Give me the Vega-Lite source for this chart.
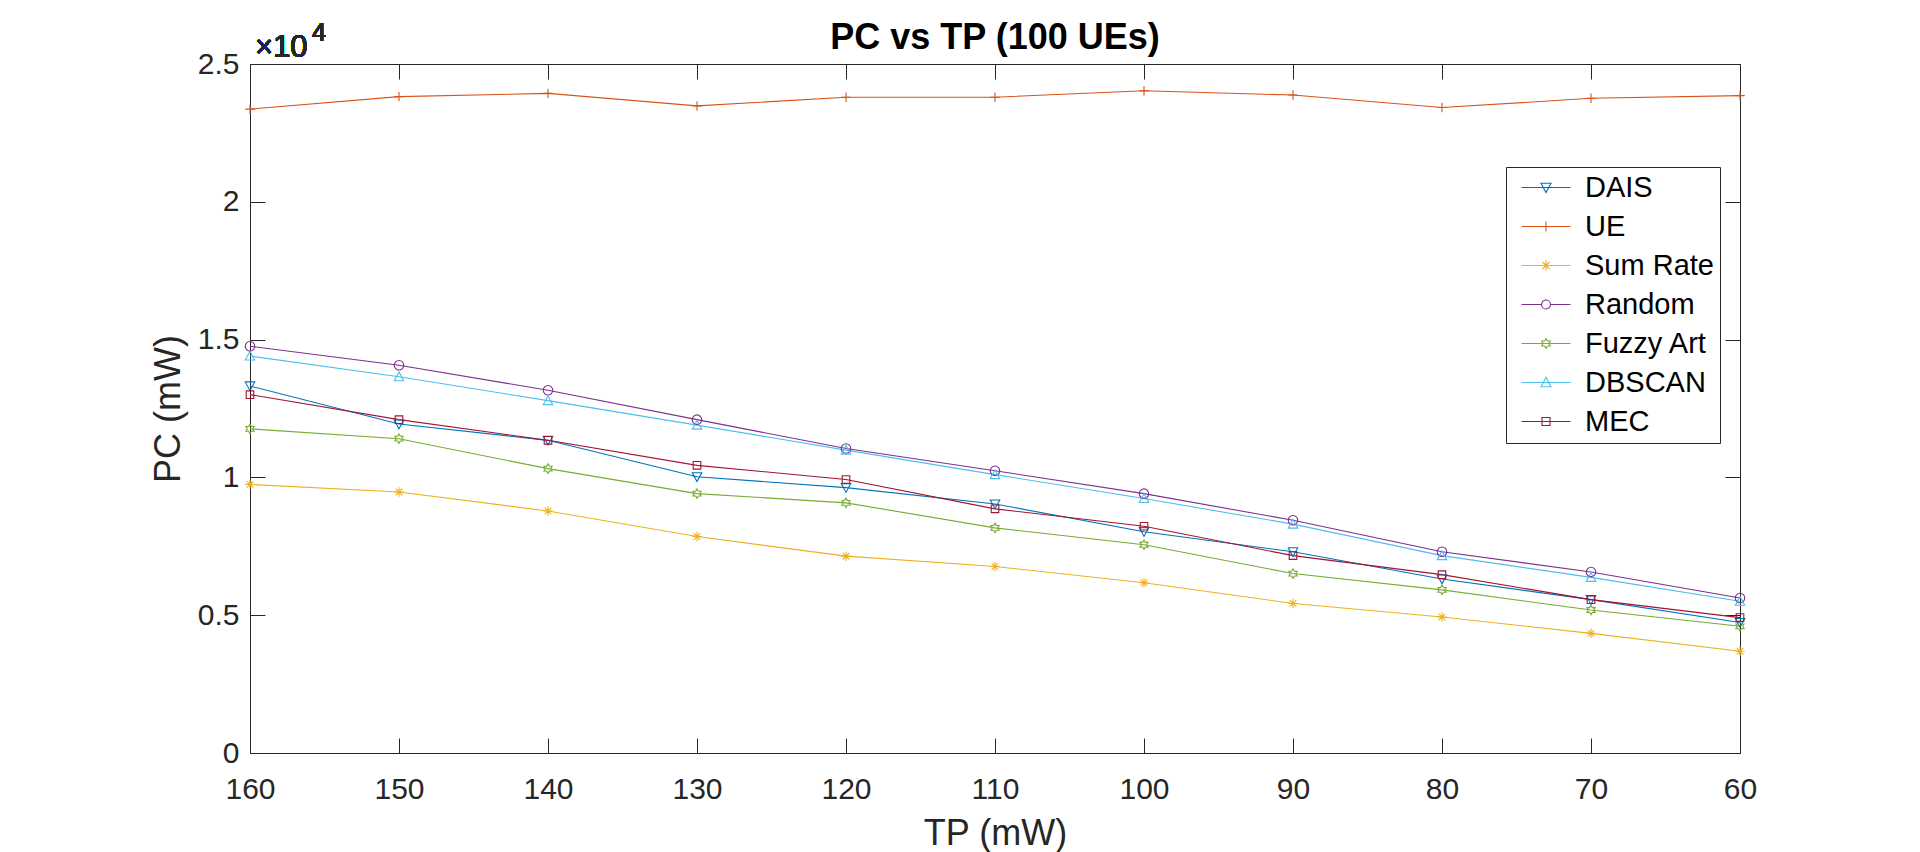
{
  "$schema": "https://vega.github.io/schema/vega-lite/v6.json",
  "width": 1490,
  "height": 689,
  "autosize": {"type": "none"},
  "padding": {"left": 250, "top": 64, "right": 180, "bottom": 99},
  "title": {
    "text": "PC vs TP (100 UEs)",
    "font": "Liberation Sans",
    "fontSize": 36,
    "fontWeight": "bold",
    "color": "#000000",
    "frame": "group",
    "anchor": "middle",
    "offset": 10,
    "dy": 46
  },
  "data": {
    "values": [
      {"TP": 160, "Method": "DAIS", "PC": 13319},
      {"TP": 150, "Method": "DAIS", "PC": 11938},
      {"TP": 140, "Method": "DAIS", "PC": 11345},
      {"TP": 130, "Method": "DAIS", "PC": 10023},
      {"TP": 120, "Method": "DAIS", "PC": 9628},
      {"TP": 110, "Method": "DAIS", "PC": 9036},
      {"TP": 100, "Method": "DAIS", "PC": 8030},
      {"TP": 90, "Method": "DAIS", "PC": 7300},
      {"TP": 80, "Method": "DAIS", "PC": 6314},
      {"TP": 70, "Method": "DAIS", "PC": 5564},
      {"TP": 60, "Method": "DAIS", "PC": 4735},
      {"TP": 160, "Method": "UE", "PC": 23362},
      {"TP": 150, "Method": "UE", "PC": 23816},
      {"TP": 140, "Method": "UE", "PC": 23934},
      {"TP": 130, "Method": "UE", "PC": 23480},
      {"TP": 120, "Method": "UE", "PC": 23794},
      {"TP": 110, "Method": "UE", "PC": 23794},
      {"TP": 100, "Method": "UE", "PC": 24031},
      {"TP": 90, "Method": "UE", "PC": 23873},
      {"TP": 80, "Method": "UE", "PC": 23420},
      {"TP": 70, "Method": "UE", "PC": 23755},
      {"TP": 60, "Method": "UE", "PC": 23854},
      {"TP": 160, "Method": "Sum Rate", "PC": 9747},
      {"TP": 150, "Method": "Sum Rate", "PC": 9471},
      {"TP": 140, "Method": "Sum Rate", "PC": 8780},
      {"TP": 130, "Method": "Sum Rate", "PC": 7853},
      {"TP": 120, "Method": "Sum Rate", "PC": 7142},
      {"TP": 110, "Method": "Sum Rate", "PC": 6767},
      {"TP": 100, "Method": "Sum Rate", "PC": 6175},
      {"TP": 90, "Method": "Sum Rate", "PC": 5426},
      {"TP": 80, "Method": "Sum Rate", "PC": 4933},
      {"TP": 70, "Method": "Sum Rate", "PC": 4341},
      {"TP": 60, "Method": "Sum Rate", "PC": 3690},
      {"TP": 160, "Method": "Random", "PC": 14759},
      {"TP": 150, "Method": "Random", "PC": 14069},
      {"TP": 140, "Method": "Random", "PC": 13161},
      {"TP": 130, "Method": "Random", "PC": 12095},
      {"TP": 120, "Method": "Random", "PC": 11049},
      {"TP": 110, "Method": "Random", "PC": 10240},
      {"TP": 100, "Method": "Random", "PC": 9411},
      {"TP": 90, "Method": "Random", "PC": 8444},
      {"TP": 80, "Method": "Random", "PC": 7300},
      {"TP": 70, "Method": "Random", "PC": 6570},
      {"TP": 60, "Method": "Random", "PC": 5623},
      {"TP": 160, "Method": "Fuzzy Art", "PC": 11760},
      {"TP": 150, "Method": "Fuzzy Art", "PC": 11405},
      {"TP": 140, "Method": "Fuzzy Art", "PC": 10319},
      {"TP": 130, "Method": "Fuzzy Art", "PC": 9411},
      {"TP": 120, "Method": "Fuzzy Art", "PC": 9076},
      {"TP": 110, "Method": "Fuzzy Art", "PC": 8168},
      {"TP": 100, "Method": "Fuzzy Art", "PC": 7557},
      {"TP": 90, "Method": "Fuzzy Art", "PC": 6511},
      {"TP": 80, "Method": "Fuzzy Art", "PC": 5919},
      {"TP": 70, "Method": "Fuzzy Art", "PC": 5189},
      {"TP": 60, "Method": "Fuzzy Art", "PC": 4597},
      {"TP": 160, "Method": "DBSCAN", "PC": 14404},
      {"TP": 150, "Method": "DBSCAN", "PC": 13654},
      {"TP": 140, "Method": "DBSCAN", "PC": 12786},
      {"TP": 130, "Method": "DBSCAN", "PC": 11897},
      {"TP": 120, "Method": "DBSCAN", "PC": 10990},
      {"TP": 110, "Method": "DBSCAN", "PC": 10102},
      {"TP": 100, "Method": "DBSCAN", "PC": 9234},
      {"TP": 90, "Method": "DBSCAN", "PC": 8306},
      {"TP": 80, "Method": "DBSCAN", "PC": 7162},
      {"TP": 70, "Method": "DBSCAN", "PC": 6373},
      {"TP": 60, "Method": "DBSCAN", "PC": 5505},
      {"TP": 160, "Method": "MEC", "PC": 13003},
      {"TP": 150, "Method": "MEC", "PC": 12096},
      {"TP": 140, "Method": "MEC", "PC": 11345},
      {"TP": 130, "Method": "MEC", "PC": 10437},
      {"TP": 120, "Method": "MEC", "PC": 9924},
      {"TP": 110, "Method": "MEC", "PC": 8859},
      {"TP": 100, "Method": "MEC", "PC": 8227},
      {"TP": 90, "Method": "MEC", "PC": 7162},
      {"TP": 80, "Method": "MEC", "PC": 6471},
      {"TP": 70, "Method": "MEC", "PC": 5564},
      {"TP": 60, "Method": "MEC", "PC": 4913}
    ]
  },
  "layer": [
    {
      "mark": {"type": "line", "strokeWidth": 1.1},
      "encoding": {
        "x": {
          "field": "TP",
          "type": "quantitative",
          "scale": {"domain": [60, 160], "reverse": true, "nice": false, "zero": false},
          "axis": {
            "orient": "bottom",
            "values": [60, 70, 80, 90, 100, 110, 120, 130, 140, 150, 160],
            "format": "d",
            "tickSize": -15,
            "labelPadding": 36,
            "labelFont": "Liberation Sans",
            "labelFontSize": 30,
            "labelColor": "#262626",
            "labelFlush": false,
            "labelOverlap": false,
            "title": "TP (mW)",
            "titleFont": "Liberation Sans",
            "titleFontSize": 36,
            "titleFontWeight": "normal",
            "titleColor": "#262626",
            "titlePadding": 12,
            "domainColor": "#262626",
            "tickColor": "#262626",
            "grid": false
          }
        },
        "y": {
          "field": "PC",
          "type": "quantitative",
          "scale": {"domain": [0, 25000], "nice": false},
          "axis": {
            "orient": "left",
            "values": [0, 5000, 10000, 15000, 20000, 25000],
            "labelExpr": "format(datum.value / 10000, '~g')",
            "tickSize": -15,
            "labelPadding": 26,
            "labelFont": "Liberation Sans",
            "labelFontSize": 30,
            "labelColor": "#262626",
            "labelFlush": false,
            "labelOverlap": false,
            "title": "PC (mW)",
            "titleFont": "Liberation Sans",
            "titleFontSize": 36,
            "titleFontWeight": "normal",
            "titleColor": "#262626",
            "titlePadding": 10,
            "domainColor": "#262626",
            "tickColor": "#262626",
            "grid": false
          }
        },
        "color": {
          "field": "Method",
          "type": "nominal",
          "scale": {
            "domain": ["DAIS", "UE", "Sum Rate", "Random", "Fuzzy Art", "DBSCAN", "MEC"],
            "range": ["#0072BD", "#D95319", "#EDB120", "#7E2F8E", "#77AC30", "#4DBEEE", "#A2142F"]
          },
          "legend": null
        }
      }
    },
    {
      "mark": {"type": "point", "filled": false, "size": 90, "strokeWidth": 1.1, "opacity": 1},
      "encoding": {
        "x": {
          "field": "TP",
          "type": "quantitative",
          "axis": {
            "orient": "top",
            "values": [60, 70, 80, 90, 100, 110, 120, 130, 140, 150, 160],
            "labels": false,
            "tickSize": -15,
            "title": null,
            "domainColor": "#262626",
            "tickColor": "#262626",
            "grid": false
          }
        },
        "y": {
          "field": "PC",
          "type": "quantitative",
          "axis": {
            "orient": "right",
            "values": [0, 5000, 10000, 15000, 20000, 25000],
            "labels": false,
            "tickSize": -15,
            "title": null,
            "domainColor": "#262626",
            "tickColor": "#262626",
            "grid": false
          }
        },
        "color": {
          "field": "Method",
          "type": "nominal",
          "scale": {
            "domain": ["DAIS", "UE", "Sum Rate", "Random", "Fuzzy Art", "DBSCAN", "MEC"],
            "range": ["#0072BD", "#D95319", "#EDB120", "#7E2F8E", "#77AC30", "#4DBEEE", "#A2142F"]
          },
          "legend": null
        },
        "shape": {
          "field": "Method",
          "type": "nominal",
          "scale": {
            "domain": ["DAIS", "UE", "Sum Rate", "Random", "Fuzzy Art", "DBSCAN", "MEC"],
            "range": [
              "M-1,-0.85H1L0,1Z",
              "M-1,0H1M0,-1V1",
              "M-1,0H1M0,-1V1M-0.7,-0.7L0.7,0.7M-0.7,0.7L0.7,-0.7",
              "M1,0A1,1,0,1,1,-1,0A1,1,0,1,1,1,0",
              "M0,-1L0.289,-0.5L0.866,-0.5L0.577,0L0.866,0.5L0.289,0.5L0,1L-0.289,0.5L-0.866,0.5L-0.577,0L-0.866,-0.5L-0.289,-0.5Z",
              "M-1,0.85H1L0,-1Z",
              "M-0.8,-0.8H0.8V0.8H-0.8Z"
            ]
          },
          "legend": null
        }
      }
    },
    {
      "mark": {"type": "point", "filled": false, "strokeWidth": 1.1, "opacity": 0},
      "encoding": {
        "x": {"field": "TP", "type": "quantitative", "axis": null},
        "y": {"field": "PC", "type": "quantitative", "axis": null},
        "color": {
          "field": "Method",
          "type": "nominal",
          "scale": {
            "domain": ["DAIS", "UE", "Sum Rate", "Random", "Fuzzy Art", "DBSCAN", "MEC"],
            "range": ["#0072BD", "#D95319", "#EDB120", "#7E2F8E", "#77AC30", "#4DBEEE", "#A2142F"]
          },
          "legend": {"orient": "none", "legendX": 1256, "legendY": 103, "title": null, "symbolOpacity": 1}
        },
        "shape": {
          "field": "Method",
          "type": "nominal",
          "scale": {
            "domain": ["DAIS", "UE", "Sum Rate", "Random", "Fuzzy Art", "DBSCAN", "MEC"],
            "range": [
              "M-1,0H8.8M2.9,-0.85H4.9L3.9,1Z",
              "M-1,0H8.8M3.9,-1V1",
              "M-1,0H8.8M3.9,-1V1M3.2,-0.7L4.6,0.7M3.2,0.7L4.6,-0.7",
              "M-1,0H3M4.8,0H8.8M4.8,0A0.9,0.9,0,1,1,3,0A0.9,0.9,0,1,1,4.8,0",
              "M-1,0H8.8M3.9,-1L4.189,-0.5L4.766,-0.5L4.477,0L4.766,0.5L4.189,0.5L3.9,1L3.611,0.5L3.034,0.5L3.323,0L3.034,-0.5L3.611,-0.5Z",
              "M-1,0H8.8M2.9,0.85H4.9L3.9,-1Z",
              "M-1,0H8.8M3.1,-0.8H4.7V0.8H3.1Z"
            ]
          },
          "legend": {"orient": "none", "legendX": 1256, "legendY": 103, "title": null, "symbolOpacity": 1}
        }
      }
    },
    {
      "mark": {
        "type": "text",
        "text": "×10",
        "align": "left",
        "baseline": "alphabetic",
        "font": "Liberation Sans",
        "fontSize": 31,
        "color": "#262626",
        "dx": 5,
        "dy": -7
      },
      "encoding": {
        "x": {"datum": 160, "type": "quantitative", "axis": null},
        "y": {"datum": 25000, "type": "quantitative", "axis": null}
      }
    },
    {
      "mark": {
        "type": "text",
        "text": "4",
        "align": "left",
        "baseline": "alphabetic",
        "font": "Liberation Sans",
        "fontSize": 25,
        "color": "#262626",
        "dx": 62,
        "dy": -23
      },
      "encoding": {
        "x": {"datum": 160, "type": "quantitative", "axis": null},
        "y": {"datum": 25000, "type": "quantitative", "axis": null}
      }
    }
  ],
  "resolve": {
    "scale": {"color": "independent", "shape": "independent"},
    "axis": {"x": "independent", "y": "independent"}
  },
  "config": {
    "view": {"stroke": null},
    "legend": {
      "labelFont": "Liberation Sans",
      "labelFontSize": 29,
      "labelColor": "#000000",
      "fillColor": "#ffffff",
      "strokeColor": "#262626",
      "padding": 6,
      "rowPadding": 9,
      "symbolSize": 100,
      "symbolStrokeWidth": 1.1,
      "labelOffset": 44,
      "cornerRadius": 0
    }
  }
}
